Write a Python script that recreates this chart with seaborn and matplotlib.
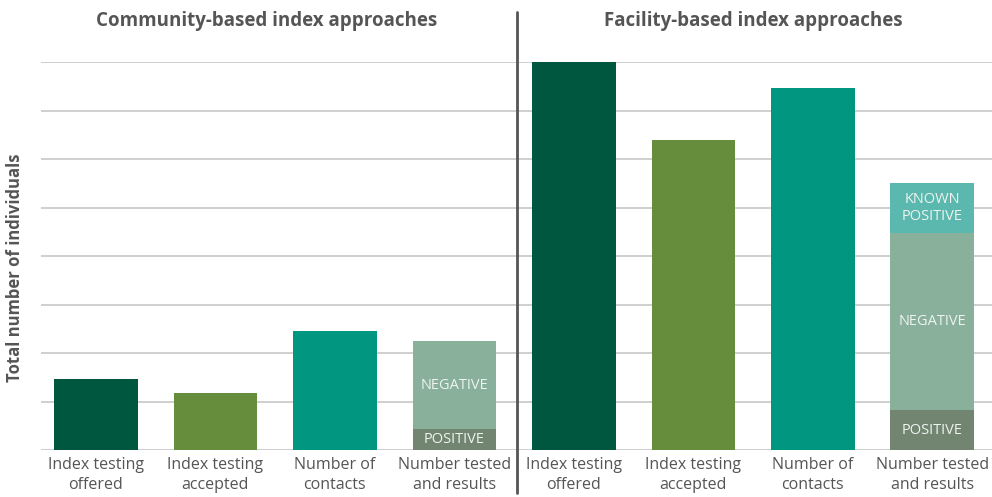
"""
Index testing cascade: community- vs facility-based approaches
"""

import matplotlib
matplotlib.use("Agg")
import matplotlib.pyplot as plt
import pandas as pd
import seaborn as sns

# Bar categories (repeated for both groups)
categories = [
    "Index testing\noffered",
    "Index testing\naccepted",
    "Number of\ncontacts",
    "Number tested\nand results",
]
group_titles = ["Community-based index approaches", "Facility-based index approaches"]

# Heights in gridline units (no axis values shown on the original)
community_totals = [1.46, 1.18, 2.45, 2.25]
facility_totals = [8.0, 6.39, 7.46, 5.5]

# Breakdown of the "Number tested and results" bars
community_positive = 0.43
community_negative = 1.82
facility_positive = 0.82
facility_negative = 3.65
facility_known_positive = 1.03

DARK = "#00573F"
OLIVE = "#658D3B"
TEAL = "#00967F"
NEG = "#88B09A"
POS = "#718571"
KNOWN = "#5BB8AE"
TEXT = "#555555"

slots = [f"c{i}" for i in range(4)] + [f"f{i}" for i in range(4)]


def main():
    sns.set_style("white")
    plt.rcParams["font.family"] = ["Open Sans", "DejaVu Sans"]

    fig = plt.figure(figsize=(9.92, 4.97), dpi=100)
    ax = fig.add_axes([41 / 992, 47 / 497, 951 / 992, 388 / 497])

    # layer 1: full bar heights (top segment colour for stacked bars)
    totals = pd.DataFrame({"slot": slots, "value": community_totals + facility_totals})
    top_colors = [DARK, OLIVE, TEAL, NEG, DARK, OLIVE, TEAL, KNOWN]
    sns.barplot(data=totals, x="slot", y="value", hue="slot", order=slots,
                palette=dict(zip(slots, top_colors)), saturation=1, width=0.7,
                linewidth=0, legend=False, ax=ax)

    # layer 2: negative + positive for facility stacked bar
    mid = pd.DataFrame({"slot": ["f3"], "value": [facility_negative + facility_positive]})
    sns.barplot(data=mid, x="slot", y="value", order=slots, color=NEG,
                saturation=1, width=0.7, linewidth=0, ax=ax)

    # layer 3: positive segments
    low = pd.DataFrame({"slot": ["c3", "f3"], "value": [community_positive, facility_positive]})
    sns.barplot(data=low, x="slot", y="value", order=slots, color=POS,
                saturation=1, width=0.7, linewidth=0, ax=ax)

    for p in ax.patches:
        p.set_alpha(1)

    # segment labels
    lab = dict(color="#EEF3EF", ha="center", va="center", fontsize=10.5)
    ax.text(3, community_positive / 2, "POSITIVE", **lab)
    ax.text(3, community_positive + community_negative / 2, "NEGATIVE", **lab)
    ax.text(7, facility_positive / 2, "POSITIVE", **lab)
    ax.text(7, facility_positive + facility_negative / 2, "NEGATIVE", **lab)
    ax.text(7, facility_positive + facility_negative + facility_known_positive / 2,
            "KNOWN\nPOSITIVE", linespacing=1.15, **lab)

    ax.set_xlim(-0.46, 7.5)
    ax.set_ylim(0, 8)
    ax.set_yticks(range(0, 9))
    ax.set_yticklabels([])
    ax.yaxis.grid(True, color="#CCCCCC", linewidth=1.3)
    ax.set_axisbelow(True)
    sns.despine(ax=ax, left=True, bottom=True)

    ax.set_xticks(range(8))
    ax.set_xticklabels(categories * 2, color=TEXT, fontsize=11.5, linespacing=1.3)
    ax.tick_params(axis="x", length=0, pad=5)
    ax.tick_params(axis="y", length=0)
    ax.set_xlabel("")
    ax.set_ylabel("Total number of individuals", color=TEXT, fontsize=12,
                  fontweight="bold")
    ax.yaxis.set_label_coords(-0.018, 0.47)

    # divider between the two groups
    ax.axvline(3.52, ymin=-0.11, ymax=1.13, color="#555555", linewidth=2, clip_on=False)

    # group titles
    for x, title in zip([1.43, 5.5], group_titles):
        ax.text(x, 8.85, title, ha="center", va="center", color=TEXT,
                fontsize=13.5, fontweight="bold")

    fig.savefig("out.png", dpi=100)


if __name__ == "__main__":
    main()
